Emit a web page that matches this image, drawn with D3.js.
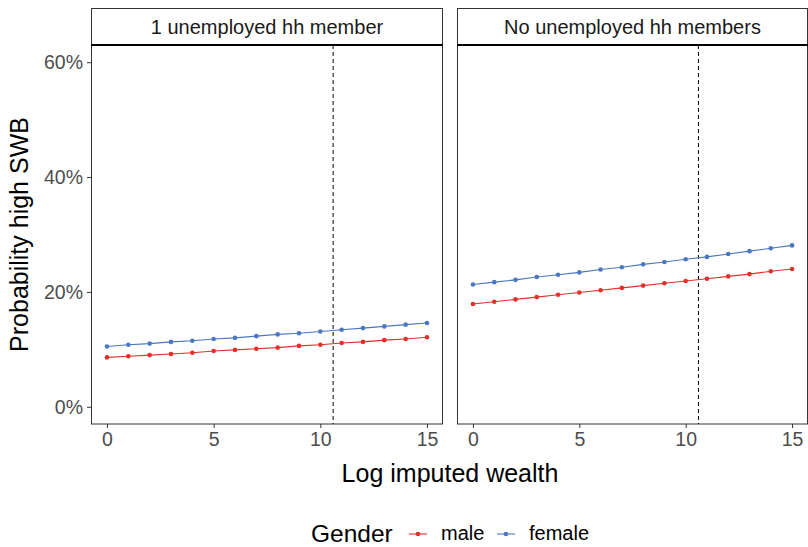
<!DOCTYPE html>
<html>
<head>
<meta charset="utf-8">
<script src="https://cdn.jsdelivr.net/npm/d3@7"></script>
<style>
  body { margin: 0; background: #fff; }
  text { font-family: Arial, "Liberation Sans", sans-serif; }
</style>
</head>
<body>
<div id="chart"></div>
<script>
const W = 808, H = 547;
const facets = ["1 unemployed hh member", "No unemployed hh members"];
const wealth = [0, 1, 2, 3, 4, 5, 6, 7, 8, 9, 10, 11, 12, 13, 14, 15];
const maleOne = [0.086, 0.088, 0.090, 0.092, 0.094, 0.097, 0.099, 0.101, 0.103, 0.106, 0.108, 0.111, 0.113, 0.116, 0.118, 0.121];
const femaleOne = [0.105, 0.108, 0.110, 0.113, 0.115, 0.118, 0.120, 0.123, 0.126, 0.128, 0.131, 0.134, 0.137, 0.140, 0.143, 0.146];
const maleNone = [0.179, 0.183, 0.187, 0.191, 0.195, 0.199, 0.203, 0.207, 0.211, 0.215, 0.219, 0.223, 0.227, 0.231, 0.236, 0.240];
const femaleNone = [0.213, 0.217, 0.221, 0.226, 0.230, 0.234, 0.239, 0.243, 0.248, 0.252, 0.257, 0.261, 0.266, 0.271, 0.276, 0.281];
const meanWealth = 10.6;
const xTicks = [0, 5, 10, 15];
const yTicks = [0, 0.2, 0.4, 0.6];
const genders = ["male", "female"];
const colors = { male: "#E3302A", female: "#4A78C2" };

const series = [
  { male: maleOne, female: femaleOne },
  { male: maleNone, female: femaleNone }
];

const svg = d3.select("#chart").append("svg")
  .attr("width", W).attr("height", H);

const panelTop = 45, panelBottom = 424, stripTop = 8;
const panels = [{ x0: 91, x1: 443 }, { x0: 457, x1: 808 }];

const y = d3.scaleLinear().domain([-0.03, 0.63]).range([panelBottom, panelTop]);

// y axis
const yAxis = svg.append("g")
  .attr("transform", `translate(${panels[0].x0},0)`)
  .call(d3.axisLeft(y).tickValues(yTicks).tickFormat(d3.format(".0%")).tickSize(4).tickPadding(4));
yAxis.select(".domain").remove();
yAxis.selectAll("line").attr("stroke", "#333");
yAxis.selectAll("text").attr("fill", "#4D4D4D").style("font-size", "19.5px")
  .style("font-family", "Arial, 'Liberation Sans', sans-serif");

panels.forEach((p, i) => {
  const x = d3.scaleLinear().domain([-0.75, 15.75]).range([p.x0, p.x1]);
  const g = svg.append("g");

  // strip
  g.append("rect")
    .attr("x", p.x0 + 0.5).attr("y", stripTop + 0.5)
    .attr("width", p.x1 - p.x0 - 1).attr("height", panelTop - stripTop)
    .attr("fill", "#fff").attr("stroke", "#333").attr("stroke-width", 1);
  g.append("text")
    .attr("x", (p.x0 + p.x1) / 2).attr("y", 34)
    .attr("text-anchor", "middle")
    .attr("fill", "#1A1A1A")
    .style("font-size", "20px")
    .text(facets[i]);

  // panel border
  g.append("rect")
    .attr("x", p.x0 + 0.5).attr("y", panelTop)
    .attr("width", p.x1 - p.x0 - 1).attr("height", panelBottom - panelTop)
    .attr("fill", "none").attr("stroke", "#333").attr("stroke-width", 1);
  g.append("line")
    .attr("x1", p.x0).attr("x2", p.x1)
    .attr("y1", panelTop).attr("y2", panelTop)
    .attr("stroke", "#000").attr("stroke-width", 2);

  // x axis
  const xa = g.append("g")
    .attr("transform", `translate(0,${panelBottom})`)
    .call(d3.axisBottom(x).tickValues(xTicks).tickFormat(d3.format("d")).tickSize(4).tickPadding(4));
  xa.select(".domain").remove();
  xa.selectAll("line").attr("stroke", "#333");
  xa.selectAll("text").attr("fill", "#4D4D4D").style("font-size", "19.5px")
    .style("font-family", "Arial, 'Liberation Sans', sans-serif");

  // dashed reference line
  g.append("line")
    .attr("x1", x(meanWealth)).attr("x2", x(meanWealth))
    .attr("y1", panelTop).attr("y2", panelBottom)
    .attr("stroke", "#000").attr("stroke-width", 1)
    .attr("stroke-dasharray", "4,3");

  genders.forEach(gd => {
    const vals = series[i][gd];
    const pts = wealth.map((w, j) => [w, vals[j]]);
    g.append("path")
      .datum(pts)
      .attr("fill", "none")
      .attr("stroke", colors[gd])
      .attr("stroke-width", 1.1)
      .attr("d", d3.line().x(d => x(d[0])).y(d => y(d[1])));
    g.selectAll(null)
      .data(pts)
      .enter().append("circle")
      .attr("cx", d => x(d[0])).attr("cy", d => y(d[1]))
      .attr("r", 2.3)
      .attr("fill", colors[gd]);
  });
});

// axis titles
svg.append("text")
  .attr("x", 450).attr("y", 482)
  .attr("text-anchor", "middle")
  .style("font-size", "25px")
  .text("Log imputed wealth");
svg.append("text")
  .attr("transform", "rotate(-90)")
  .attr("x", -(panelTop + panelBottom) / 2).attr("y", 28)
  .attr("text-anchor", "middle")
  .style("font-size", "25px")
  .text("Probability high SWB");

// legend
const legend = svg.append("g");
legend.append("text")
  .attr("x", 311).attr("y", 542)
  .style("font-size", "24.5px")
  .text("Gender");
const legendX = [409, 497];
genders.forEach((gd, i) => {
  const lx = legendX[i];
  legend.append("line")
    .attr("x1", lx).attr("x2", lx + 18)
    .attr("y1", 534).attr("y2", 534)
    .attr("stroke", colors[gd]).attr("stroke-width", 1.1);
  legend.append("circle")
    .attr("cx", lx + 9).attr("cy", 534).attr("r", 2.3)
    .attr("fill", colors[gd]);
  legend.append("text")
    .attr("x", lx + 32).attr("y", 540)
    .style("font-size", "20px")
    .text(gd);
});
</script>
</body>
</html>
